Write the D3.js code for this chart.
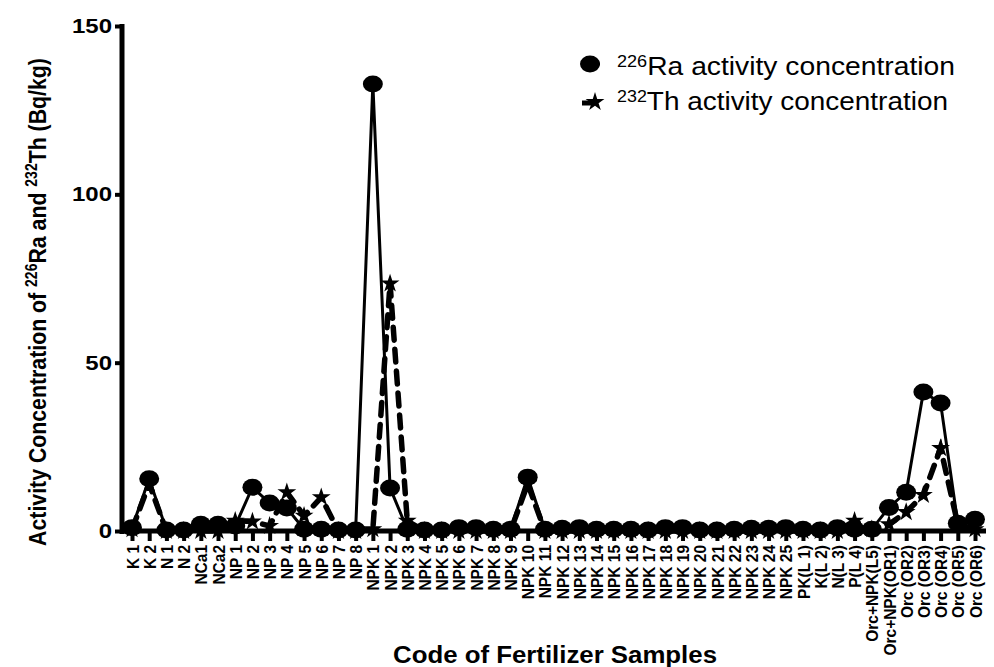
<!DOCTYPE html>
<html>
<head>
<meta charset="utf-8">
<script src="https://cdn.jsdelivr.net/npm/d3@7"></script>
<style>
  body { margin: 0; background: #fff; }
  svg { font-family: "Liberation Sans", Arial, sans-serif; }
</style>
</head>
<body>
<svg id="chart" width="994" height="667"></svg>
<script>
// sample codes along the x axis
var categories = ["K 1", "K 2", "N 1", "N 2", "NCa1", "NCa2",
    "NP 1", "NP 2", "NP 3", "NP 4", "NP 5", "NP 6", "NP 7", "NP 8",
    "NPK 1", "NPK 2", "NPK 3", "NPK 4", "NPK 5", "NPK 6", "NPK 7", "NPK 8", "NPK 9", "NPK 10",
    "NPK 11", "NPK 12", "NPK 13", "NPK 14", "NPK 15", "NPK 16", "NPK 17", "NPK 18", "NPK 19", "NPK 20",
    "NPK 21", "NPK 22", "NPK 23", "NPK 24", "NPK 25",
    "PK(L 1)", "K(L 2)", "N(L 3)", "P(L 4)", "Orc+NPK(L5)", "Orc+NPK(OR1)",
    "Orc (OR2)", "Orc (OR3)", "Orc (OR4)", "Orc (OR5)", "Orc (OR6)"];

// 226Ra activity concentration (Bq/kg)
var raValues = [1, 15.5, 0.3, 0.3, 2, 2,
    1.5, 13, 8.3, 6.8, 0.5, 0.5, 0.3, 0.3,
    132.8, 12.8, 0.5, 0.3, 0.3, 1, 1, 0.5, 0.5, 16,
    0.5, 0.8, 1, 0.5, 0.5, 0.5, 0.3, 1, 1, 0.3,
    0.3, 0.5, 0.8, 0.8, 1,
    0.5, 0.3, 1, 0.5, 0.5, 7,
    11.5, 41.3, 38, 2.3, 3.5];

// 232Th activity concentration (Bq/kg)
var thValues = [0.5, 14, 0, 0, 0, 0,
    3, 2.8, 1.5, 11.5, 4.5, 10, 0, 0,
    0.5, 73.5, 3, 0, 0, 0, 0, 0, 0, 14,
    0, 0, 0, 0, 0, 0, 0, 0, 0, 0,
    0, 0, 0, 0, 0,
    0, 0, 0, 3, 0.5, 2,
    5.6, 10.7, 24.6, 2, 0.5];

var yTicks = [0, 50, 100, 150];

var svg = d3.select("#chart");

// widen text horizontally, the reference picture is a bit stretched
function stretch(sel, k) {
    sel.each(function() {
        var w = this.getComputedTextLength();
        d3.select(this)
            .attr("textLength", w * k)
            .attr("lengthAdjust", "spacingAndGlyphs");
    });
}

var x = d3.scalePoint()
    .domain(categories)
    .range([132, 975]);

var y = d3.scaleLinear()
    .domain([0, 150])
    .range([531, 26]);

// x axis: thick line with a tick under every sample
var xAxis = d3.axisBottom(x).tickSize(10).tickSizeOuter(0).tickPadding(6);
var gx = svg.append("g")
    .attr("transform", "translate(0,531)")
    .call(xAxis);
gx.select(".domain").remove();
gx.append("line")
    .attr("x1", 120).attr("x2", 986)
    .attr("stroke", "#000").attr("stroke-width", 5);
gx.selectAll(".tick line").attr("stroke-width", 4);
gx.selectAll(".tick text")
    .attr("transform", "rotate(-90) scale(1,1.12)")
    .attr("x", -14)
    .attr("y", 0)
    .attr("dy", "0.35em")
    .attr("text-anchor", "end")
    .attr("font-size", 15.5)
    .attr("font-weight", "bold")
    .attr("fill", "#000");

// y axis
var yAxis = d3.axisLeft(y).tickValues(yTicks).tickSize(7).tickSizeOuter(0).tickPadding(3);
var gy = svg.append("g")
    .attr("transform", "translate(122,0)")
    .call(yAxis);
gy.select(".domain").remove();
gy.append("line")
    .attr("y1", 24).attr("y2", 534)
    .attr("stroke", "#000").attr("stroke-width", 5);
gy.selectAll(".tick line").attr("stroke-width", 4);
gy.selectAll(".tick text")
    .attr("font-size", 20)
    .attr("font-weight", "bold")
    .attr("fill", "#000")
    .call(stretch, 1.2);

// Th series: dashed line + stars (drawn first, Ra sits on top)
var line = d3.line()
    .x(function(d, i) { return x(categories[i]); })
    .y(function(d) { return y(d); });

svg.append("path")
    .datum(thValues)
    .attr("d", line)
    .attr("fill", "none")
    .attr("stroke", "#000")
    .attr("stroke-width", 5.5)
    .attr("stroke-dasharray", "13,9")
    .attr("stroke-linecap", "round");

var star = d3.symbol().type(d3.symbolStar).size(110);
svg.selectAll(".th")
    .data(thValues)
    .enter()
    .append("path")
    .attr("class", "th")
    .attr("d", star)
    .attr("transform", function(d, i) {
        return "translate(" + x(categories[i]) + "," + y(d) + ")";
    })
    .attr("fill", "#000");

// Ra series: solid line + filled ellipses
svg.append("path")
    .datum(raValues)
    .attr("d", line)
    .attr("fill", "none")
    .attr("stroke", "#000")
    .attr("stroke-width", 3);

svg.selectAll(".ra")
    .data(raValues)
    .enter()
    .append("ellipse")
    .attr("class", "ra")
    .attr("cx", function(d, i) { return x(categories[i]); })
    .attr("cy", function(d) { return y(d); })
    .attr("rx", 10)
    .attr("ry", 8.5)
    .attr("fill", "#000");

// axis titles
svg.append("text")
    .attr("transform", "translate(46,302) rotate(-90) scale(1,1.15)")
    .attr("text-anchor", "middle")
    .attr("font-size", 21.3)
    .attr("font-weight", "bold")
    .html('Activity Concentration of <tspan baseline-shift="super" font-size="14">226</tspan>Ra and <tspan baseline-shift="super" font-size="14">232</tspan>Th (Bq/kg)');

svg.append("text")
    .attr("x", 555)
    .attr("y", 663)
    .attr("text-anchor", "middle")
    .attr("font-size", 23)
    .attr("font-weight", "bold")
    .text("Code of Fertilizer Samples")
    .attr("textLength", 324)
    .attr("lengthAdjust", "spacingAndGlyphs");

// legend
var legend = svg.append("g");
legend.append("line")
    .attr("x1", 581).attr("x2", 600).attr("y1", 64).attr("y2", 64)
    .attr("stroke", "#000").attr("stroke-width", 3);
legend.append("ellipse")
    .attr("cx", 590).attr("cy", 64).attr("rx", 10).attr("ry", 8.5)
    .attr("fill", "#000");
legend.append("text")
    .attr("x", 617).attr("y", 75)
    .attr("font-size", 25)
    .attr("textLength", 338)
    .attr("lengthAdjust", "spacingAndGlyphs")
    .html('<tspan baseline-shift="super" font-size="16">226</tspan>Ra activity concentration');

legend.append("line")
    .attr("x1", 582).attr("x2", 594).attr("y1", 103).attr("y2", 103)
    .attr("stroke", "#000").attr("stroke-width", 5);
legend.append("path")
    .attr("d", star)
    .attr("transform", "translate(595,102)")
    .attr("fill", "#000");
legend.append("text")
    .attr("x", 617).attr("y", 110)
    .attr("font-size", 25)
    .attr("textLength", 331)
    .attr("lengthAdjust", "spacingAndGlyphs")
    .html('<tspan baseline-shift="super" font-size="16">232</tspan>Th activity concentration');
</script>
</body>
</html>
